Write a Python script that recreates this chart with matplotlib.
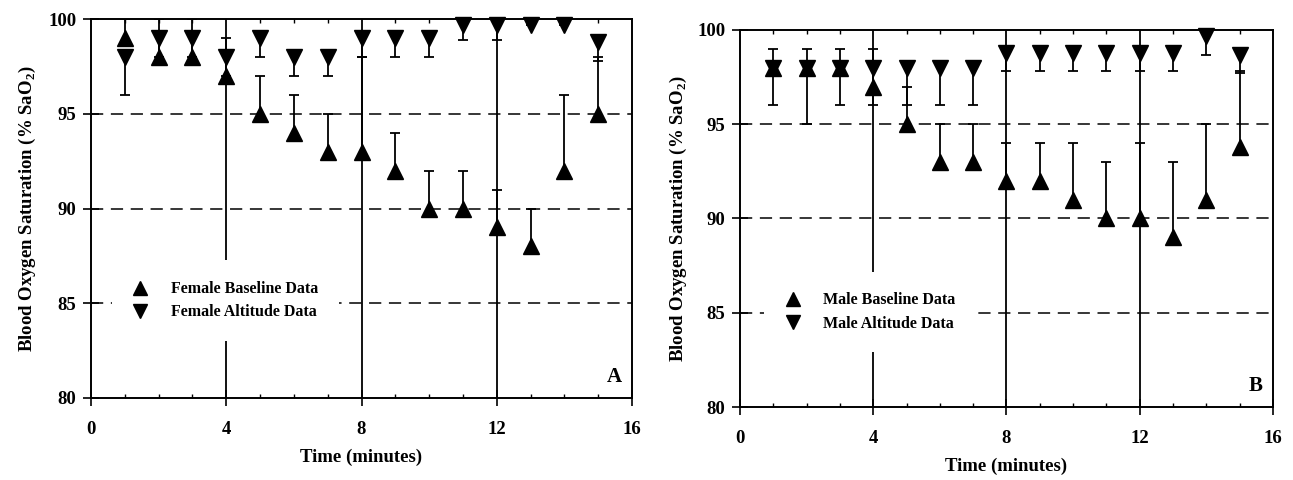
import numpy as np
import matplotlib
matplotlib.use("Agg")
import matplotlib.pyplot as plt
from matplotlib.ticker import MultipleLocator

plt.rcParams['font.family'] = ['Liberation Serif', 'DejaVu Serif']
plt.rcParams['font.weight'] = 'bold'
plt.rcParams['mathtext.fontset'] = 'custom'
plt.rcParams['mathtext.rm'] = 'Liberation Serif:bold'
plt.rcParams['mathtext.bf'] = 'Liberation Serif:bold'

# Time points (minutes)
minutes = [1, 2, 3, 4, 5, 6, 7, 8, 9, 10, 11, 12, 13, 14, 15]

# Panel A - females
female_baseline = [99, 98, 98, 97, 95, 94, 93, 93, 92, 90, 90, 89, 88, 92, 95]
female_baseline_err = [1, 2, 2, 2, 2, 2, 2, 5, 2, 2, 2, 2, 2, 4, 3]
female_altitude = [98, 99, 99, 98, 99, 98, 98, 99, 99, 99, 99.7, 99.7, 99.7, 99.7, 98.8]
female_altitude_err = [2, 1, 1, 1, 1, 1, 1, 1, 1, 1, 0.8, 0.8, 0, 0, 1]

# Panel B - males
male_baseline = [98, 98, 98, 97, 95, 93, 93, 92, 92, 91, 90, 90, 89, 91, 93.8]
male_baseline_err = [1, 1, 1, 2, 2, 2, 2, 2, 2, 3, 3, 4, 4, 4, 4]
male_altitude = [98, 98, 98, 98, 98, 98, 98, 98.8, 98.8, 98.8, 98.8, 98.8, 98.8, 99.7, 98.7]
male_altitude_err = [2, 3, 2, 2, 2, 2, 2, 1, 1, 1, 1, 1, 1, 1, 1]

ylabel = r"Blood Oxygen Saturation (% SaO$_\mathbf{2}$)"

fig = plt.figure(figsize=(12.93, 4.8), dpi=100)
ax_a = fig.add_axes([91 / 1293, 1 - 398 / 480, 541 / 1293, 379 / 480])
ax_b = fig.add_axes([740 / 1293, 1 - 407 / 480, 533 / 1293, 377 / 480])


def draw_panel(ax, base, base_err, alt, alt_err, sex, letter, leg_xy, ylab_x):
    zeros = np.zeros(len(minutes))
    # baseline error goes up, altitude error goes down (one-sided)
    eb_base = ax.errorbar(minutes, base, yerr=[zeros, base_err], fmt='none',
                          ecolor='black', elinewidth=1.3, capsize=3.5,
                          capthick=1.3, zorder=3)
    eb_alt = ax.errorbar(minutes, alt, yerr=[alt_err, zeros], fmt='none',
                         ecolor='black', elinewidth=1.3, capsize=3.5,
                         capthick=1.3, zorder=3)
    # hide the caps sitting on the markers themselves
    eb_base[1][0].set_visible(False)
    eb_alt[1][1].set_visible(False)

    ax.plot(minutes, base, linestyle='none', marker='^', markersize=12,
            color='black', label=f"{sex} Baseline Data", zorder=4, clip_on=False)
    ax.plot(minutes, alt, linestyle='none', marker='v', markersize=12,
            color='black', label=f"{sex} Altitude Data", zorder=4, clip_on=False)

    ax.set_xlim(0, 16)
    ax.set_ylim(80, 100)
    ax.xaxis.set_major_locator(MultipleLocator(4))
    ax.xaxis.set_minor_locator(MultipleLocator(1))
    ax.yaxis.set_major_locator(MultipleLocator(5))

    # grid: solid verticals, dashed horizontals
    for x in [4, 8, 12]:
        ax.axvline(x, color='black', linewidth=1.3, zorder=1)
    for y in [85, 90, 95]:
        ax.axhline(y, color='black', linewidth=1.1, linestyle=(0, (8, 5)), zorder=1)

    for s in ax.spines.values():
        s.set_linewidth(1.4)
    ax.tick_params(which='major', direction='inout', length=11, width=1.2,
                   labelsize=13.5, pad=5)
    ax.tick_params(which='minor', direction='in', length=3, width=1.0, top=True)
    ax.tick_params(axis='x', which='major', pad=11)

    ax.set_xlabel("Time (minutes)", fontsize=13.5, fontweight='bold')
    ax.set_ylabel(ylabel, fontsize=13.5, fontweight='bold')
    ax.xaxis.set_label_coords(0.5, -0.135)
    ax.yaxis.set_label_coords(ylab_x, 0.5)

    leg = ax.legend(loc='lower left', bbox_to_anchor=leg_xy, frameon=True,
                    fontsize=11.5, borderpad=1.3, borderaxespad=0,
                    handlelength=1.0, handletextpad=1.4, labelspacing=0.45,
                    fancybox=False, edgecolor='none', facecolor='white',
                    framealpha=1, markerscale=0.85)
    leg.set_zorder(2)

    ax.text(0.968, 0.055, letter, transform=ax.transAxes, fontsize=15,
            fontweight='bold', ha='center', va='center')


draw_panel(ax_a, female_baseline, female_baseline_err, female_altitude,
           female_altitude_err, "Female", "A", (0.038, 0.15), -0.098)
draw_panel(ax_b, male_baseline, male_baseline_err, male_altitude,
           male_altitude_err, "Male", "B", (0.045, 0.145), -0.095)

fig.savefig("out.png", dpi=100)
